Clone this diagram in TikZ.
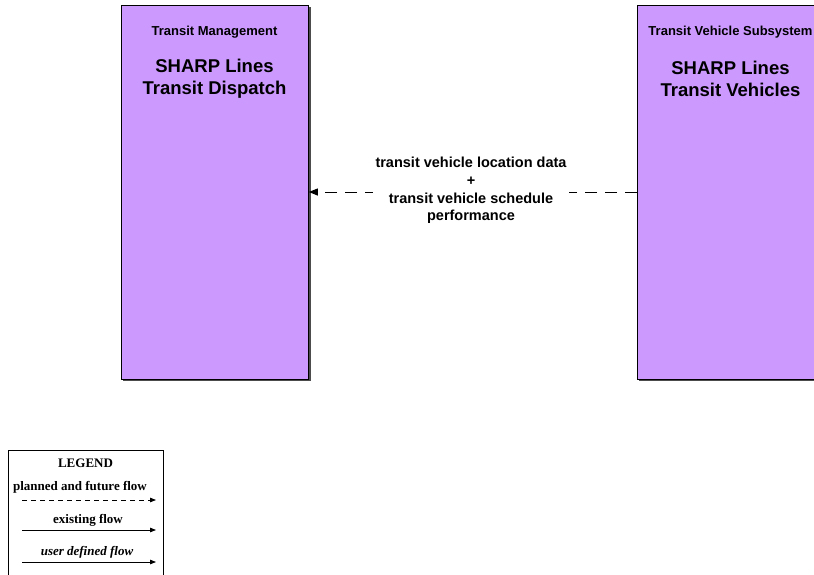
\documentclass[tikz,border=0pt]{standalone}
\usepackage{fontspec}
\setmainfont{Liberation Serif}
\setsansfont{Liberation Sans}
\usetikzlibrary{arrows.meta}
\definecolor{boxfill}{HTML}{CC99FF}
\tikzset{
  sysbox/.style={draw=black, line width=0.8pt, fill=boxfill},
  shadowline/.style={draw=black!70, line width=1.2pt},
  small/.style={font=\sffamily\bfseries\fontsize{13}{15}\selectfont, align=center},
  big/.style={font=\sffamily\bfseries\fontsize{18.5}{22}\selectfont, align=center},
  flowlabel/.style={font=\sffamily\bfseries\fontsize{14.5}{17.7}\selectfont, align=center, fill=white, inner xsep=3pt, inner ysep=0pt},
  flow/.style={line width=0.9pt, dash pattern=on 12pt off 8pt, -{Triangle[length=9pt,width=7pt]}},
  legtext/.style={font=\rmfamily\bfseries\fontsize{13}{15}\selectfont},
  legarrow/.style={line width=0.8pt, -{Triangle[length=6pt,width=4.5pt]}}
}
\begin{document}
\begin{tikzpicture}[x=1pt,y=-1pt]
\useasboundingbox (0,0) rectangle (814,574);
\clip (0,0) rectangle (814,574);
% boxes
\draw[shadowline] (123,380) -- (310,380) -- (310,7);
\node[sysbox, minimum width=187pt, minimum height=374pt, inner sep=0pt, anchor=north west] (tm) at (121,5) {};
\draw[shadowline] (639,380) -- (826,380) -- (826,7);
\node[sysbox, minimum width=187pt, minimum height=374pt, inner sep=0pt, anchor=north west] (tv) at (637,5) {};
% titles
\node[small] (tmcat) at (214.5,32) {Transit Management};
\node[big] (tmname) at (214.5,79) {SHARP Lines\\Transit Dispatch};
\node[small] (tvcat) at (730.5,32) {Transit Vehicle Subsystem};
\node[big] (tvname) at (730.5,79) {SHARP Lines\\Transit Vehicles};
% flow
\coordinate (fs) at (tv.west |- 0,192);
\coordinate (fe) at (tm.east |- 0,192);
\draw[flow] (fs) -- (fe);
\node[flowlabel] (fl) at (471,190.5) {transit vehicle location data\\+\\transit vehicle schedule\\performance};
% legend
\draw[line width=0.8pt] (8,575) -- (8,450) -- (163,450) -- (163,575);
\node[legtext] (lg) at (85.5,463) {LEGEND};
\node[legtext] (lp) at (80,487) {planned and future flow};
\coordinate (p1) at (22,500); \coordinate (p2) at (156,500);
\draw[legarrow, dash pattern=on 5pt off 4pt] (p1) -- (p2);
\node[legtext] (le) at (88,520) {existing flow};
\coordinate (e1) at (22,530); \coordinate (e2) at (156,530);
\draw[legarrow] (e1) -- (e2);
\node[legtext, font=\rmfamily\bfseries\itshape\fontsize{13}{15}\selectfont] (lu) at (87,552) {user defined flow};
\coordinate (u1) at (22,562); \coordinate (u2) at (156,562);
\draw[legarrow] (u1) -- (u2);
\end{tikzpicture}
\end{document}
